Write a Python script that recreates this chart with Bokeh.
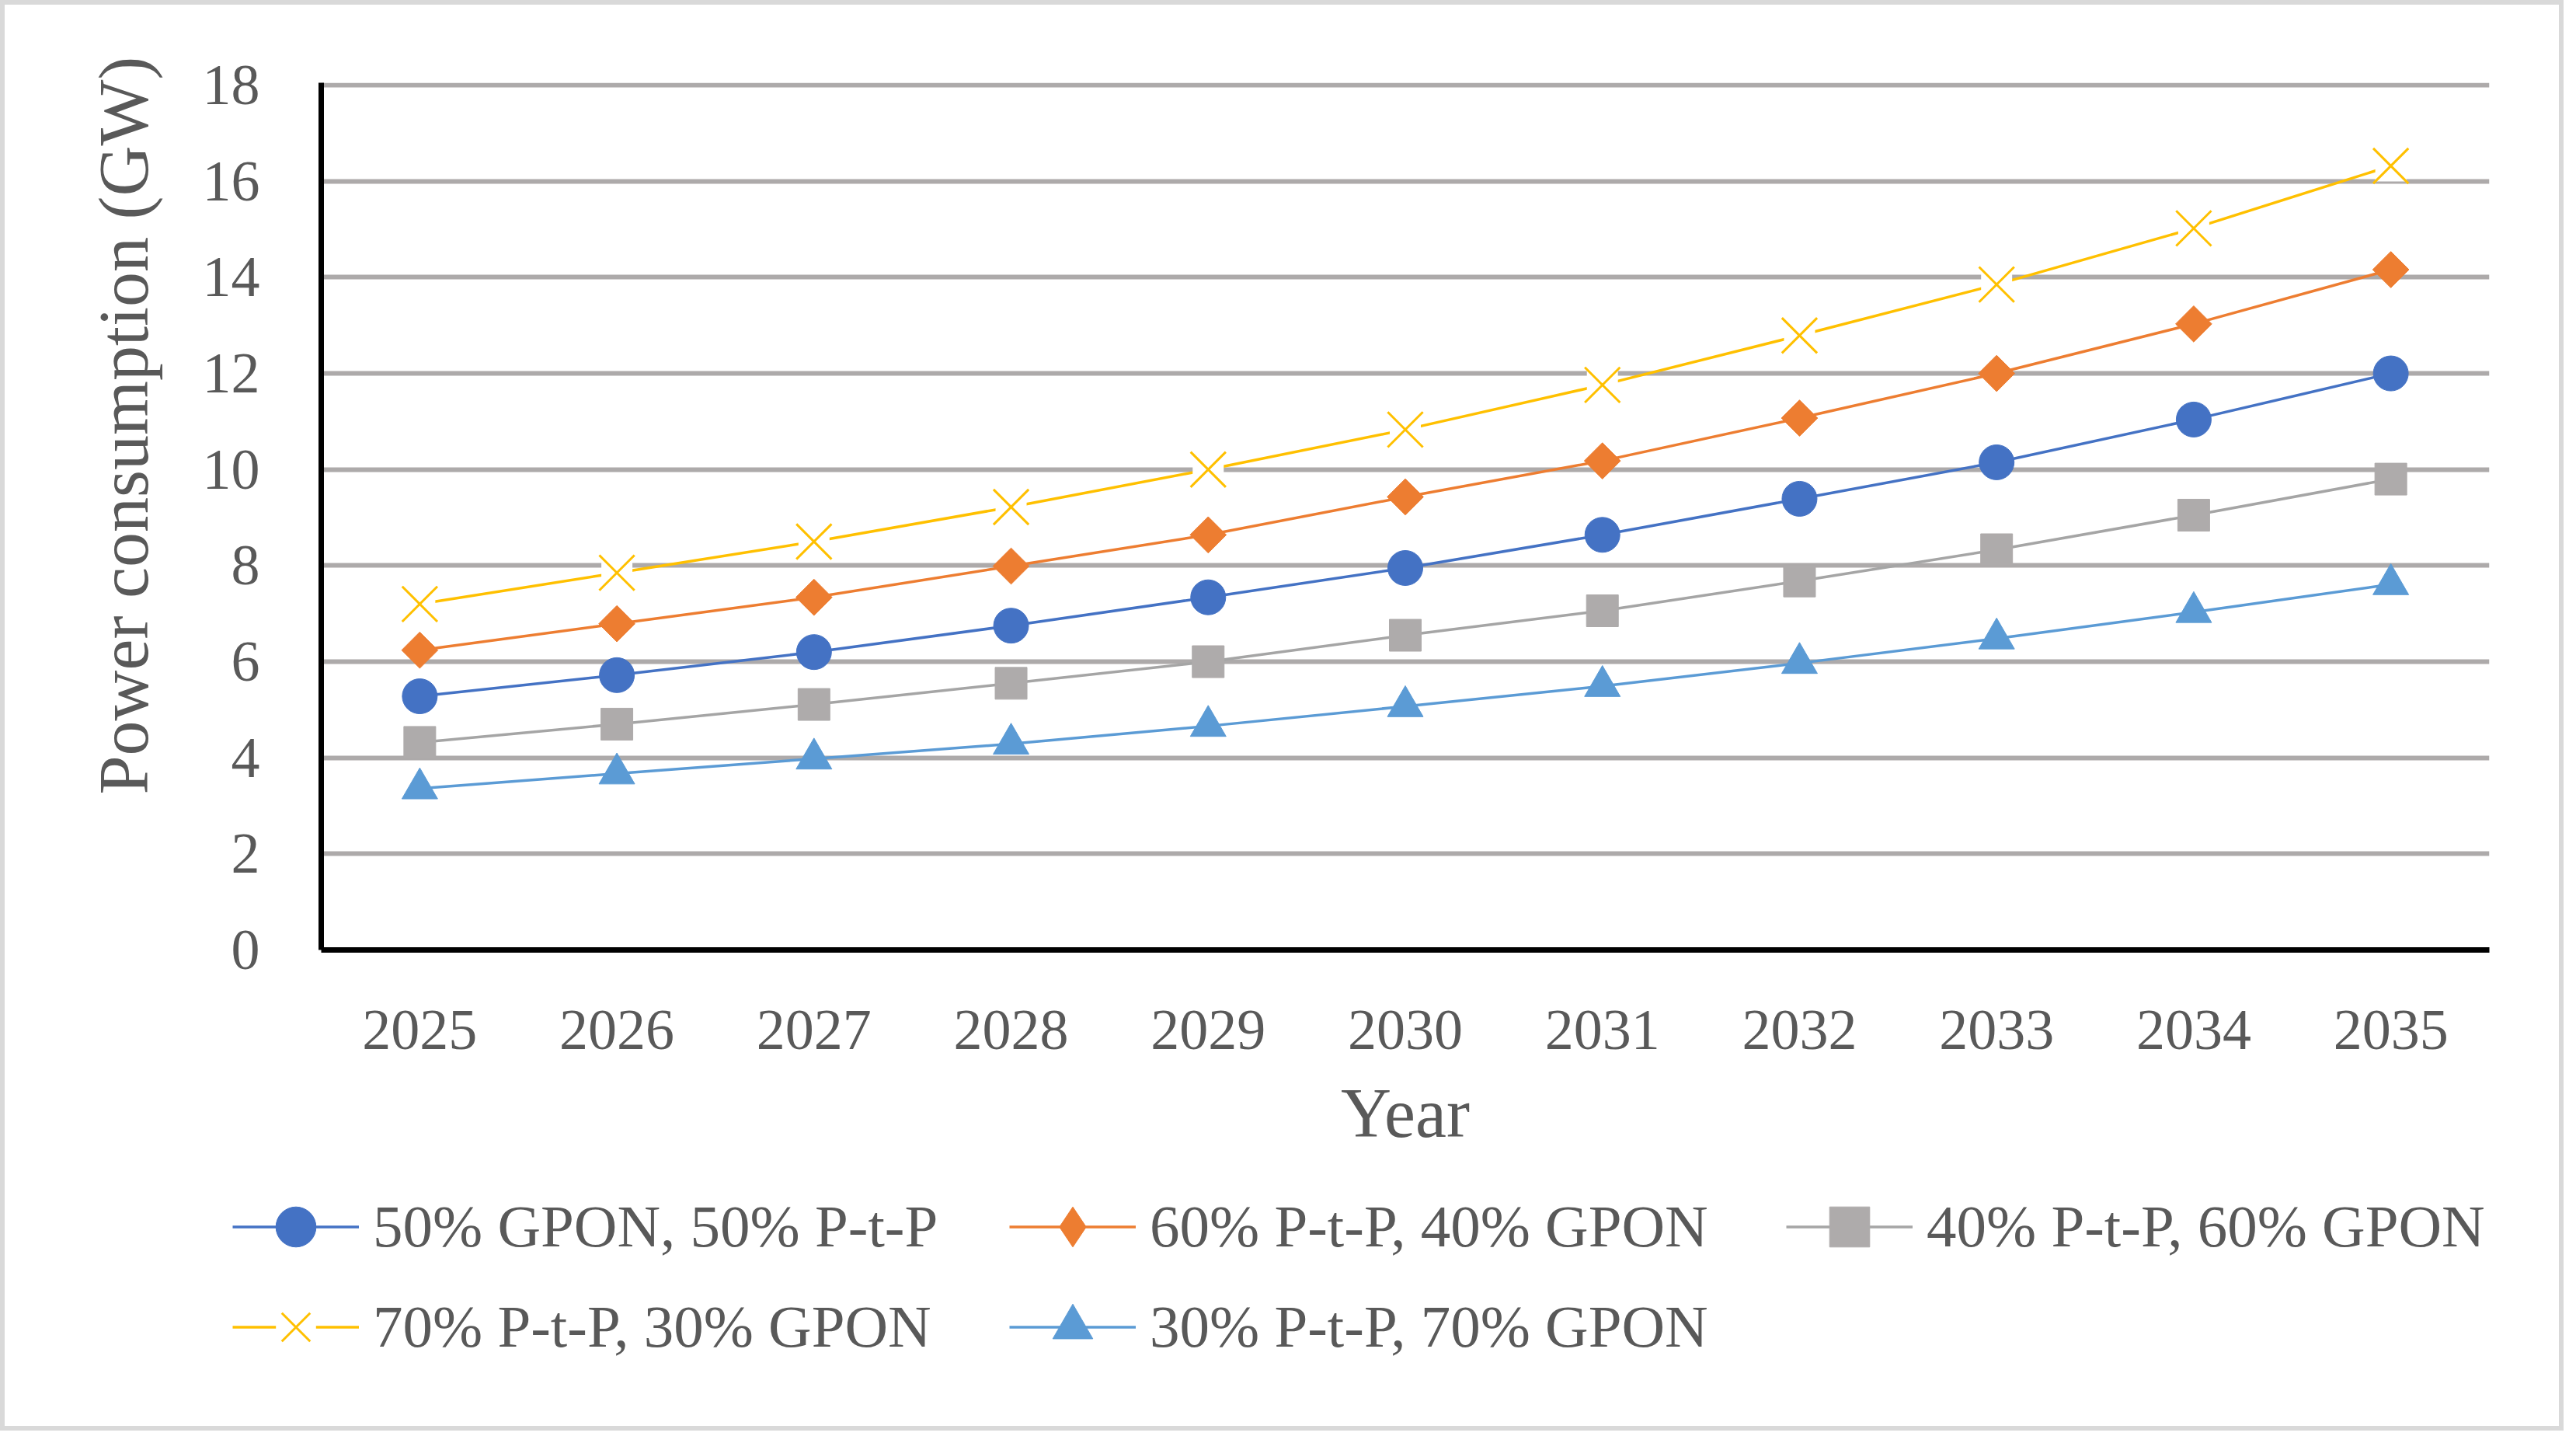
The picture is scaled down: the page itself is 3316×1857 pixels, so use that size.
import math
from bokeh.plotting import figure
from bokeh.layouts import column
from bokeh.models import (Legend, LegendItem, Title, Range1d, FixedTicker,
                          ColumnDataSource)
from bokeh.embed import file_html
from bokeh.resources import INLINE

years = [2025, 2026, 2027, 2028, 2029, 2030, 2031, 2032, 2033, 2034, 2035]
gpon50_ptp50 = [5.28, 5.72, 6.20, 6.75, 7.34, 7.95, 8.64, 9.39, 10.15, 11.04, 12.00]
ptp60_gpon40 = [6.24, 6.79, 7.34, 7.99, 8.64, 9.43, 10.18, 11.07, 12.00, 13.03, 14.16]
ptp40_gpon60 = [4.32, 4.70, 5.11, 5.55, 6.00, 6.55, 7.06, 7.68, 8.33, 9.05, 9.80]
ptp70_gpon30 = [7.20, 7.85, 8.50, 9.22, 10.00, 10.83, 11.76, 12.79, 13.85, 15.02, 16.32]
ptp30_gpon70 = [3.36, 3.67, 3.98, 4.29, 4.66, 5.07, 5.49, 5.97, 6.48, 7.03, 7.61]
y_ticks = [0, 2, 4, 6, 8, 10, 12, 14, 16, 18]

labels = ["50% GPON, 50% P-t-P", "60% P-t-P, 40% GPON", "40% P-t-P, 60% GPON",
          "70% P-t-P, 30% GPON", "30% P-t-P, 70% GPON"]

FONT = "Liberation Serif"
TXT = "#595959"
LW = 3.5

series = [
    dict(vals=gpon50_ptp50, color="#4472C4", marker="circle", size=45, angle=0.0),
    dict(vals=ptp60_gpon40, color="#ED7D31", marker="square", size=33, angle=math.pi / 4),
    dict(vals=ptp40_gpon60, color="#A5A5A5", marker="square", size=41, angle=0.0),
    dict(vals=ptp70_gpon30, color="#FFC000", marker="x", size=64, angle=0.0),
    dict(vals=ptp30_gpon70, color="#5B9BD5", marker="triangle", size=46, angle=0.0),
]

# ---------------- main chart ----------------
p = figure(width=3266, height=1505, output_backend="svg", toolbar_location=None,
           x_range=Range1d(2024.5, 2035.5), y_range=Range1d(0, 18.05),
           min_border_left=396, min_border_right=79, min_border_top=89,
           min_border_bottom=300)
p.outline_line_color = None
p.background_fill_color = "white"
p.border_fill_color = "white"

p.xgrid.grid_line_color = None
p.ygrid.grid_line_color = "#ADAAAA"
p.ygrid.grid_line_width = 6
p.ygrid.ticker = FixedTicker(ticks=y_ticks)

for ax in (p.xaxis[0], p.yaxis[0]):
    ax.axis_line_color = "black"
    ax.axis_line_width = 7
    ax.major_tick_line_color = None
    ax.minor_tick_line_color = None
    ax.major_tick_out = 0
    ax.major_tick_in = 0
    ax.minor_tick_out = 0
    ax.major_label_text_font = FONT
    ax.major_label_text_font_size = "74px"
    ax.major_label_text_color = TXT

p.xaxis[0].ticker = FixedTicker(ticks=years)
p.xaxis[0].major_label_standoff = 78
p.xaxis[0].axis_label = "Year"
p.xaxis[0].axis_label_text_font = FONT
p.xaxis[0].axis_label_text_font_size = "90px"
p.xaxis[0].axis_label_text_font_style = "normal"
p.xaxis[0].axis_label_text_color = TXT
p.xaxis[0].axis_label_standoff = 30

p.yaxis[0].ticker = FixedTicker(ticks=y_ticks)
p.yaxis[0].major_label_standoff = 79

ytitle = Title(text="Power consumption (GW)", align="left", offset=200,
               standoff=97, text_font=FONT, text_font_size="90px",
               text_font_style="normal", text_color=TXT)
p.add_layout(ytitle, "left")

for s in series:
    src = ColumnDataSource(dict(x=years, y=s["vals"]))
    p.line("x", "y", source=src, line_color=s["color"], line_width=LW)
    if s["marker"] == "x":
        p.scatter("x", "y", source=src, marker="square", size=40,
                  fill_color="white", line_color=None)
        p.scatter("x", "y", source=src, marker="x", size=s["size"],
                  line_color=s["color"], line_width=3)
    else:
        fc = "#AEABAB" if s["color"] == "#A5A5A5" else s["color"]
        p.scatter("x", "y", source=src, marker=s["marker"], size=s["size"],
                  angle=s["angle"], fill_color=fc, line_color=fc, line_width=1)

# ---------------- legend strip ----------------
pl = figure(width=3266, height=302, output_backend="svg", toolbar_location=None,
            x_range=Range1d(0, 1), y_range=Range1d(0, 1),
            x_axis_type=None, y_axis_type=None, min_border=0,
            min_border_left=0, min_border_right=0, min_border_top=0,
            min_border_bottom=0)
pl.outline_line_color = None
pl.xgrid.grid_line_color = None
pl.ygrid.grid_line_color = None
pl.background_fill_color = "white"
pl.border_fill_color = "white"

for f in (p, pl):
    if "frame_align" in f.properties():
        f.frame_align = False

legend_markers = ["circle", "diamond", "square", "x", "triangle"]
items = []
for s, lab, mk in zip(series, labels, legend_markers):
    src = ColumnDataSource(dict(x=years, y=s["vals"]))  # lies outside this strip's ranges
    rs = [pl.line("x", "y", source=src, line_color=s["color"], line_width=LW)]
    if mk == "x":
        rs.append(pl.scatter("x", "y", source=src, marker="square", size=40,
                             fill_color="white", line_color=None))
        rs.append(pl.scatter("x", "y", source=src, marker="x", size=40,
                             line_color=s["color"], line_width=3))
    else:
        fc = "#AEABAB" if s["color"] == "#A5A5A5" else s["color"]
        rs.append(pl.scatter("x", "y", source=src, marker=mk, size=40,
                             fill_color=fc, line_color=fc, line_width=1))
    items.append(LegendItem(label=lab, renderers=rs))

legend = Legend(items=items, location=(282, 52), orientation="horizontal",
                ncols=3, glyph_width=163, glyph_height=129, label_standoff=18,
                label_width=819, spacing=0, padding=0, margin=0,
                border_line_color=None, background_fill_alpha=0,
                label_text_font=FONT, label_text_font_size="77px",
                label_text_color=TXT)
pl.add_layout(legend)

layout = column(p, pl, spacing=0)
layout.styles = {"border": "6px solid #D9D9D9", "padding": "11px",
                 "box-sizing": "content-box"}
open("out.html", "w").write(file_html(layout, INLINE))
